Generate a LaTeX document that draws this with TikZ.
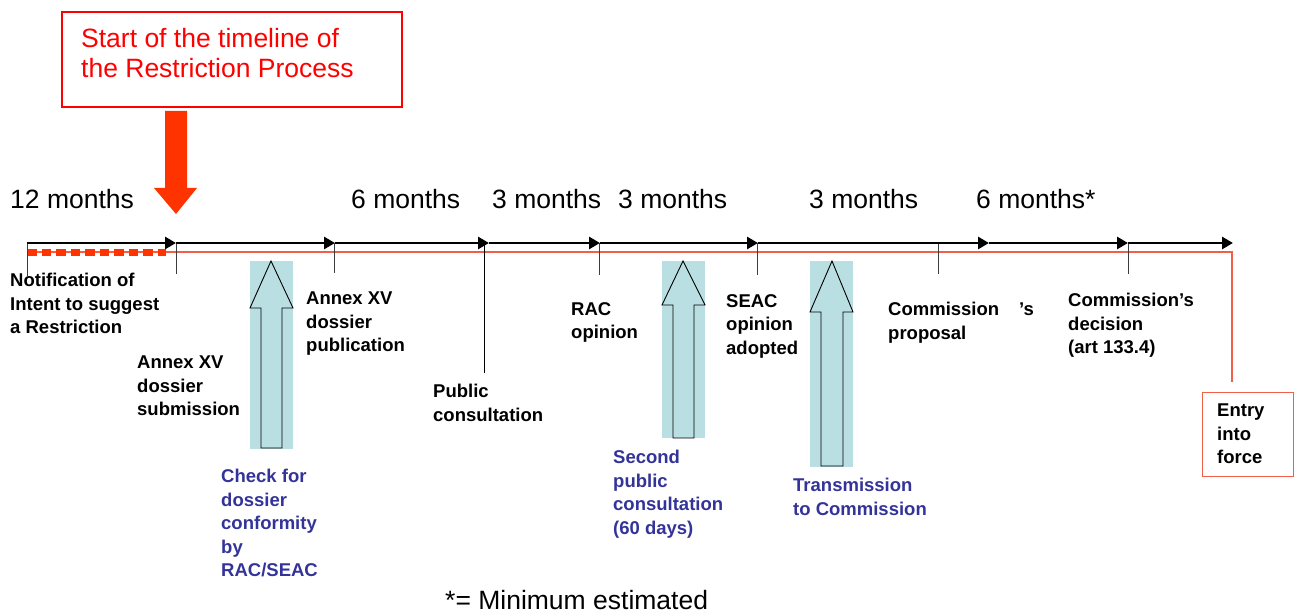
\documentclass[tikz,border=0pt]{standalone}
\usepackage{fontspec}
\setmainfont{Liberation Sans}
\usetikzlibrary{arrows.meta}
\definecolor{boxred}{RGB}{255,0,0}
\definecolor{arrowred}{RGB}{255,51,0}
\definecolor{linered}{RGB}{240,95,70}
\definecolor{cyanfill}{RGB}{186,223,227}
\definecolor{bluetext}{RGB}{51,51,153}
\definecolor{tickgray}{RGB}{60,60,60}
\begin{document}
\begin{tikzpicture}[x=1pt,y=-1pt,
  big/.style={font=\fontsize{26.5}{30}\selectfont, inner sep=0, anchor=base west},
  lbl/.style={font=\fontsize{18.5}{23.5}\selectfont\bfseries, inner sep=0, anchor=north west, align=left},
  bluelbl/.style={lbl, text=bluetext},
  seg/.style={line width=2.8pt, -{Triangle[length=11pt,width=12pt]}},
  tick/.style={draw=tickgray, line width=1pt},
  hollowarrow/.style={draw=black, line width=0.9pt, fill=cyanfill},
]
\useasboundingbox (0,0) rectangle (1299,615);

% --- start box and red arrow
\node[draw=boxred, line width=1.8pt, minimum width=340pt, minimum height=95pt, anchor=north west, inner sep=0] (startbox) at (61,11) {};
\node[font=\fontsize{26.5}{30.5}\selectfont, text=boxred, inner sep=0, anchor=north west, align=left] (starttxt) at (81,28) {Start of the timeline of\\the Restriction Process};
\fill[arrowred] (165,111) -- (187,111) -- (187,188) -- (197,188) -- (176,214) -- (154,188) -- (165,188) -- cycle;

% --- month labels
\node[big] (m1) at (10,208) {12 months};
\node[big] (m2) at (351,208) {6 months};
\node[big] (m3) at (492,208) {3 months};
\node[big] (m4) at (618,208) {3 months};
\node[big] (m5) at (809,208) {3 months};
\node[big] (m6) at (976,208) {6 months*};

% --- timeline points
\coordinate (p0) at (27,243);
\coordinate (p1) at (176,243);
\coordinate (p2) at (335,243);
\coordinate (p3) at (489,243);
\coordinate (p4) at (600,243);
\coordinate (p5) at (758,243);
\coordinate (p6) at (989,243);
\coordinate (p7) at (1128,243);
\coordinate (p8) at (1233,243);

% red thin line
\coordinate (r0) at (27,252);
\coordinate (r1) at (1233,252);
\coordinate (r2) at (1232,252);
\coordinate (r3) at (1232,382);
\draw[linered, line width=1.2pt] (r0) -- (r1);
\draw[linered, line width=1.2pt] (r2) -- (r3);
% red dashed
\coordinate (d1) at (166,252);
\draw[arrowred, line width=7pt, dash pattern=on 9.5pt off 5pt] (r0) -- (d1);

% ticks
\coordinate (t0) at (27,276);
\coordinate (t1) at (176,274);
\coordinate (t2) at (334,273);
\coordinate (t3a) at (484,243);
\coordinate (t3) at (484,373);
\coordinate (t4) at (599,275);
\coordinate (t5) at (757,275);
\coordinate (t6a) at (938,243);
\coordinate (t6) at (938,274);
\coordinate (t7) at (1128,274);
\coordinate (t1a) at (176,243);
\coordinate (t2a) at (334,243);
\coordinate (t4a) at (599,243);
\coordinate (t5a) at (757,243);
\coordinate (t7a) at (1128,243);
\draw[tick] (p0) -- (t0);
\draw[tick] (t1a) -- (t1);
\draw[tick] (t2a) -- (t2);
\draw[tick, draw=black] (t3a) -- (t3);
\draw[tick] (t4a) -- (t4);
\draw[tick] (t5a) -- (t5);
\draw[tick] (t6a) -- (t6);
\draw[tick] (t7a) -- (t7);

% black arrows
\draw[seg] (p0) -- (p1);
\draw[seg] (p1) -- (p2);
\draw[seg] (p2) -- (p3);
\draw[seg] (p3) -- (p4);
\draw[seg] (p4) -- (p5);
\draw[seg] (p5) -- (p6);
\draw[seg] (p6) -- (p7);
\draw[seg] (p7) -- (p8);

% --- cyan hollow arrows
\fill[cyanfill] (250,261) rectangle (293,449);
\draw[hollowarrow] (271,261) -- (293,308) -- (282,308) -- (282,448) -- (261,448) -- (261,308) -- (250,308) -- cycle;
\fill[cyanfill] (662,261) rectangle (705,438);
\draw[hollowarrow] (683,261) -- (705,305) -- (694,305) -- (694,438) -- (673,438) -- (673,305) -- (662,305) -- cycle;
\fill[cyanfill] (810,261) rectangle (853,467);
\draw[hollowarrow] (832,261) -- (853,312) -- (843,312) -- (843,466) -- (821,466) -- (821,312) -- (810,312) -- cycle;

% --- labels
\node[lbl] (notif) at (10,273) {Notification of\\Intent to suggest\\a Restriction};
\node[lbl] (subm) at (137,356) {Annex XV\\dossier\\submission};
\node[lbl] (publ) at (306,292) {Annex XV\\dossier\\publication};
\node[lbl] (pc) at (433,384) {Public\\consultation};
\node[lbl] (rac) at (571,302) {RAC\\opinion};
\node[lbl] (seac) at (726,294) {SEAC\\opinion\\adopted};
\node[lbl] (cprop) at (888,302) {Commission\hspace{20pt}’s\\proposal};
\node[lbl] (cdec) at (1068,293) {Commission's\\decision\\(art 133.4)};

\node[draw=linered, line width=1.2pt, minimum width=91pt, minimum height=84pt, anchor=north west, inner sep=0] (entrybox) at (1202,392) {};
\node[lbl] (entry) at (1217,404) {Entry\\into\\force};

\node[bluelbl] (check) at (221,469) {Check for\\dossier\\conformity\\by\\RAC/SEAC};
\node[bluelbl] (second) at (613,450) {Second\\public\\consultation\\(60 days)};
\node[bluelbl] (trans) at (793,478) {Transmission\\to Commission};

\node[big] (note) at (445,609) {*= Minimum estimated};
\end{tikzpicture}
\end{document}
